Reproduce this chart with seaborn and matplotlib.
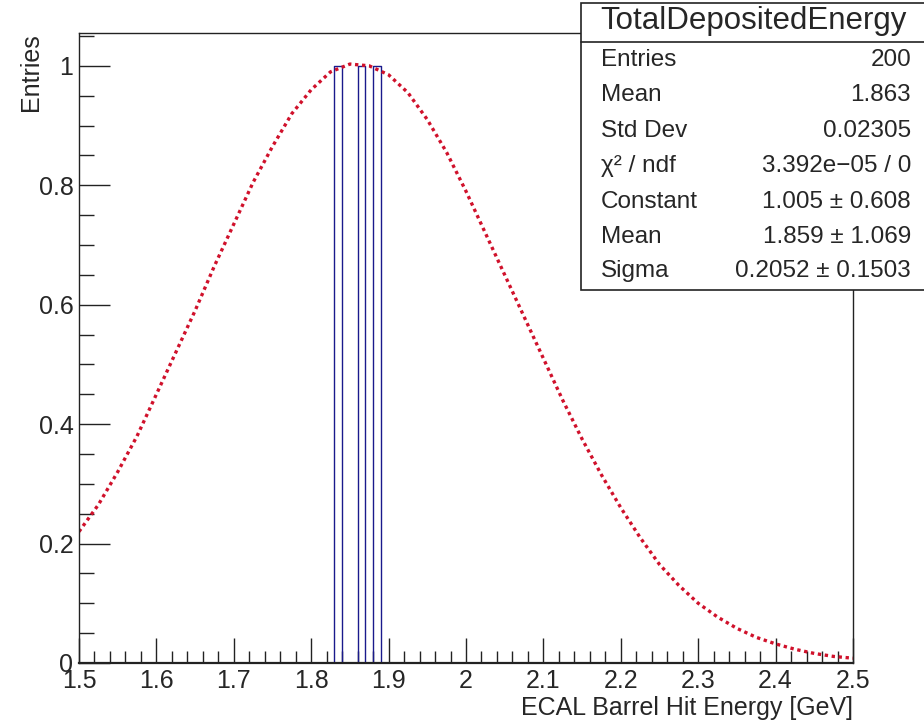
import matplotlib
matplotlib.use("Agg")
import matplotlib.pyplot as plt
from matplotlib.patches import Rectangle
from matplotlib.lines import Line2D
from matplotlib.ticker import MultipleLocator
import seaborn as sns
import pandas as pd

# histogram contents (bin centres, 0.01 GeV bins) and fit curve
bin_centers = [1.835, 1.865, 1.885]
bin_contents = [1.0, 1.0, 1.0]

fit_x = [1.500, 1.525, 1.550, 1.575, 1.600, 1.625, 1.650, 1.675, 1.700, 1.725,
         1.750, 1.775, 1.800, 1.825, 1.850, 1.875, 1.900, 1.925, 1.950, 1.975,
         2.000, 2.025, 2.050, 2.075, 2.100, 2.125, 2.150, 2.175, 2.200, 2.225,
         2.250, 2.275, 2.300, 2.325, 2.350, 2.375, 2.400, 2.425, 2.450, 2.475, 2.500]
fit_y = [0.22, 0.265, 0.32, 0.38, 0.45, 0.52, 0.59, 0.665, 0.735, 0.805,
         0.865, 0.92, 0.96, 0.99, 1.003, 1.0, 0.985, 0.955, 0.91, 0.855,
         0.79, 0.72, 0.65, 0.58, 0.51, 0.44, 0.375, 0.315, 0.26, 0.21,
         0.165, 0.13, 0.10, 0.077, 0.058, 0.043, 0.032, 0.023, 0.016, 0.011, 0.008]

x_ticks = [1.5, 1.6, 1.7, 1.8, 1.9, 2.0, 2.1, 2.2, 2.3, 2.4, 2.5]
x_tick_labels = ["1.5", "1.6", "1.7", "1.8", "1.9", "2", "2.1", "2.2", "2.3", "2.4", "2.5"]
y_ticks = [0, 0.2, 0.4, 0.6, 0.8, 1.0]
y_tick_labels = ["0", "0.2", "0.4", "0.6", "0.8", "1"]

stats_title = "TotalDepositedEnergy"
stats_names = ["Entries", "Mean", "Std Dev", "χ² / ndf", "Constant", "Mean", "Sigma"]
stats_values = ["200", "1.863", "0.02305", "3.392e\u221205 / 0",
                "1.005 ± 0.608", "1.859 ± 1.069", "0.2052 ± 0.1503"]

sns.set_style("ticks")
plt.rcParams['font.family'] = ['Liberation Sans', 'DejaVu Sans']

W, H = 924, 721
fig = plt.figure(figsize=(W / 100, H / 100), dpi=100)
ax = fig.add_axes([79 / W, 1 - 663 / H, (853 - 79) / W, (663 - 33) / H])

hist_df = pd.DataFrame({'energy': bin_centers, 'w': bin_contents})
sns.histplot(data=hist_df, x='energy', weights='w', bins=100, binrange=(1.5, 2.5),
             element='step', fill=False, color='#1a1a8c', linewidth=1.0, ax=ax)

fit_df = pd.DataFrame({'x': fit_x, 'y': fit_y})
sns.lineplot(data=fit_df, x='x', y='y', color='#d0112b', linewidth=2.4,
             linestyle=(0, (1, 1.1)), ax=ax)

ax.set_xlim(1.5, 2.5)
ax.set_ylim(0, 1.055)
ax.set_xticks(x_ticks)
ax.set_xticklabels(x_tick_labels)
ax.set_yticks(y_ticks)
ax.set_yticklabels(y_tick_labels)
ax.xaxis.set_minor_locator(MultipleLocator(0.02))
ax.yaxis.set_minor_locator(MultipleLocator(0.05))

ax.tick_params(axis='both', which='both', direction='in', color='#222222',
               width=1.0, top=False, right=False, labelsize=18)
ax.tick_params(axis='x', which='major', length=18, pad=4)
ax.tick_params(axis='x', which='minor', length=9)
ax.tick_params(axis='y', which='major', length=22, pad=4)
ax.tick_params(axis='y', which='minor', length=11)
for name, s in ax.spines.items():
    s.set_visible(True)
    s.set_color('#222222')
    s.set_linewidth(1.0)
    s.set_zorder(3)
# bottom frame drawn a bit heavier so the empty histogram baseline hides under it
ax.spines['bottom'].set_linewidth(1.6)

ax.set_xlabel("ECAL Barrel Hit Energy [GeV]", fontsize=18, loc='right', labelpad=2.5)
ax.set_ylabel("Entries", fontsize=18, loc='top', labelpad=-3)

# stats box
bx0, bx1, by0, by1 = 581, 926, 3, 290
fig.add_artist(Rectangle((bx0 / W, 1 - by1 / H), (bx1 - bx0) / W, (by1 - by0) / H,
                         transform=fig.transFigure, facecolor='white',
                         edgecolor='#222222', linewidth=1.2, zorder=5))
fig.add_artist(Line2D([bx0 / W, 1], [1 - 42 / H, 1 - 42 / H], transform=fig.transFigure,
                      color='#222222', linewidth=1.2, zorder=6))
fig.text(753 / W, 1 - 21 / H, stats_title, ha='center', va='center', fontsize=22.5, zorder=7)
row_y = [60, 95, 131, 166, 202, 237, 271]
for yy, name, val in zip(row_y, stats_names, stats_values):
    fig.text(601 / W, 1 - yy / H, name, ha='left', va='center', fontsize=17.5, zorder=7)
    fig.text(911 / W, 1 - yy / H, val, ha='right', va='center', fontsize=17.5, zorder=7)

fig.savefig("out.png", dpi=100)
